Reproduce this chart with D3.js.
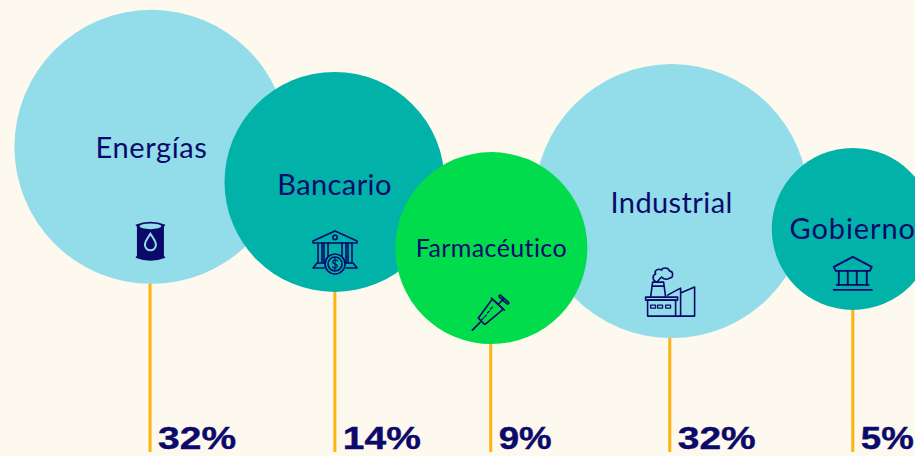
<!DOCTYPE html>
<html>
<head>
<meta charset="utf-8">
<script src="https://d3js.org/d3.v7.min.js"></script>
<style>
  html, body { margin: 0; padding: 0; background: #fef9ef; overflow: hidden; }
  svg { display: block; }
</style>
</head>
<body>
<div id="my_dataviz"></div>
<script>
// data
var sectors = ["Energías", "Bancario", "Farmacéutico", "Industrial", "Gobierno"];
var shares = [32, 14, 9, 32, 5];
var shareLabels = ["32%", "14%", "9%", "32%", "5%"];
// bubble centres and stems, in percent of the plot width / height
var bubbleX = [16.55, 36.56, 53.7, 73.4, 93.2];
var bubbleY = [67.8, 60.1, 45.6, 55.9, 49.8];
var stemX = [16.4, 36.6, 53.63, 73.2, 93.2];
var groups = ["light", "teal", "green", "light", "teal"];
var icons = ["barrel", "bank", "syringe", "factory", "government"];

var width = 915, height = 456;
var navy = "#0b0a6b";

var x = d3.scaleLinear().domain([0, 100]).range([0, width]);
var y = d3.scaleLinear().domain([0, 100]).range([height, 0]);
var r = d3.scaleLinear().domain([5, 9, 14, 32]).range([81, 96, 110, 137]);
var color = d3.scaleOrdinal()
  .domain(["light", "teal", "green"])
  .range(["#92dde9", "#00b2a8", "#00dc4c"]);

var rows = sectors.map(function(s, i) {
  return { sector: s, share: shares[i], label: shareLabels[i], x: bubbleX[i], y: bubbleY[i], stem: stemX[i], group: groups[i], icon: icons[i] };
});

// label baseline below the bubble centre, and tracking to fit the original widths
var labelDy = { "Energías": 11, "Bancario": 13, "Farmacéutico": 9, "Industrial": 12, "Gobierno": 10 };
var labelTrack = { "Energías": 0.6, "Bancario": 0.4, "Farmacéutico": 0.4, "Industrial": 0.4, "Gobierno": 0.9 };

var svg = d3.select("#my_dataviz").append("svg")
  .attr("width", width)
  .attr("height", height);

// stems
var stemBottom = 452;
svg.append("g").selectAll("line")
  .data(rows)
  .join("line")
    .attr("x1", function(d) { return x(d.stem); })
    .attr("x2", function(d) { return x(d.stem); })
    .attr("y1", function(d) { return y(d.y); })
    .attr("y2", stemBottom)
    .attr("stroke", "#ffb311")
    .attr("stroke-width", 3);

// big ones go first, the smaller bubbles sit on top
var bubbles = svg.append("g").selectAll("g")
  .data(rows.slice().sort(function(a, b) { return d3.descending(a.share, b.share); }))
  .join("g")
    .attr("transform", function(d) { return "translate(" + x(d.x) + "," + y(d.y) + ")"; });

bubbles.append("circle")
  .attr("r", function(d) { return r(d.share); })
  .attr("fill", function(d) { return color(d.group); });

bubbles.append("text")
  .attr("text-anchor", "middle")
  .attr("dy", function(d) { return labelDy[d.sector]; })
  .attr("font-family", "Lato")
  .attr("font-size", function(d) { return d.sector == "Farmacéutico" ? 25 : 29; })
  .attr("letter-spacing", function(d) { return labelTrack[d.sector]; })
  .attr("fill", navy)
  .text(function(d) { return d.sector; });

// percent labels, stretched because the original face is an extended one
svg.append("g").selectAll("text")
  .data(rows)
  .join("text")
    .attr("x", function(d) { return x(d.stem) + 8; })
    .attr("y", 449.4)
    .attr("font-family", "Liberation Sans")
    .attr("font-weight", "bold")
    .attr("font-size", 31)
    .attr("textLength", function(d) { return d.label.length == 3 ? 78 : 53; })
    .attr("lengthAdjust", "spacingAndGlyphs")
    .attr("fill", navy)
    .attr("stroke", navy)
    .attr("stroke-width", 0.4)
    .text(function(d) { return d.label; });

// icons, each drawn in its own local coordinates
function outline(g) {
  return g.attr("fill", "none").attr("stroke", navy).attr("stroke-width", 1.6)
    .attr("stroke-linejoin", "round").attr("stroke-linecap", "round");
}

var drawIcon = {
  barrel: function(g) {
    g.attr("transform", "translate(-1,95)");
    g.append("path").attr("fill", navy)
      .attr("d", "M-15,-17 Q0,-23 15,-17 L13.5,-15 L13.5,14 L15,16 Q0,22 -15,16 L-13.5,14 L-13.5,-15 Z");
    g.append("ellipse").attr("cy", -15.5).attr("rx", 11).attr("ry", 2.8).attr("fill", "#92dde9");
    g.append("path").attr("fill", "none").attr("stroke", "#92dde9").attr("stroke-width", 2)
      .attr("d", "M0,-8 C3,-3 5.5,-1 5.5,3 A5.5,5.5 0 0 1 -5.5,3 C-5.5,-1 -3,-3 0,-8 Z");
  },
  bank: function(g) {
    g.attr("transform", "translate(0.5,70)");
    outline(g);
    g.append("path").attr("d", "M-22,-11 L0,-21 L22,-11 L22,-9 L-22,-9 Z");
    g.append("circle").attr("cy", -14.5).attr("r", 2.2);
    [-15, -9, 9, 15].forEach(function(c) {
      g.append("path").attr("d", "M" + (c - 2) + ",-9 V11 M" + (c + 2) + ",-9 V11");
    });
    g.append("path").attr("d", "M-18,11 H18 M-22,16 L-18,11 M22,16 L18,11 M-22,16 H-11 M11,16 H22");
    g.append("circle").attr("cy", 12).attr("r", 10).attr("fill", "#00b2a8");
    g.append("circle").attr("cy", 12).attr("r", 7);
    g.append("path").attr("stroke-width", 1.2).attr("d", "M2.5,9 Q0,7 -2,9 Q-3,11.5 0,12 Q3,13 2,15 Q0,17 -2.5,15 M0,6.5 V17.5");
  },
  syringe: function(g) {
    g.attr("transform", "translate(-1,65)");
    outline(g);
    g.append("path").attr("d", "M-18,17 L-10,9 M-12,5 L-6,11 M-12,5 L2,-14 L13,-4 L-5,11");
    g.append("path").attr("stroke-width", 1.2).attr("d", "M-9,7 L-7,5 M-6,4 L-4,2 M-3,0 L-1,-2 M0,-4 L2,-6");
    g.append("path").attr("d", "M1,-15 L14,-3 M8,-9 L13,-14 M10,-18 L18,-11 Q19,-9 17,-9 L9,-16 Q8,-18 10,-18 Z");
  },
  factory: function(g) {
    g.attr("transform", "translate(0,91)");
    outline(g);
    g.append("path").attr("d", "M-24,8 H4 V24 H-24 Z");
    g.append("path").attr("d", "M-26,5 H6 V8 H-26 Z");
    g.append("path").attr("d", "M-21,5 L-19,-10 H-8 L-6,5 M-19,-6 H-8");
    g.append("path").attr("d", "M-4,3 L9,-4 V24 M9,1 L23,-5 V24 H4");
    g.append("path").attr("stroke-width", 1.2).attr("d", "M-21,13 h5 v3 h-5 Z M-14,13 h5 v3 h-5 Z M-6,13 h5 v3 h-5 Z");
    g.append("path").attr("d", "M-15,-10 C-20,-12 -19,-17 -16,-18 C-18,-22 -13,-24 -10,-22 C-10,-25 -3,-25 -2,-21 C2,-21 2,-14 -2,-14 C-5,-12 -8,-13 -10,-15 C-12,-14 -12,-12 -15,-10 Z");
  },
  government: function(g) {
    g.attr("transform", "translate(0,45)");
    outline(g).attr("stroke-width", 1.9);
    g.append("path").attr("d", "M-19,-7 L0,-17 L19,-7 L17,-3 H-17 Z");
    g.append("path").attr("d", "M-14,-3 V11 M-5,-3 V11 M4,-3 V11 M14,-3 V11");
    g.append("path").attr("d", "M-16,11 H16 M-19,16 H19");
  }
};

bubbles.append("g").each(function(d) {
  drawIcon[d.icon](d3.select(this));
});
</script>
</body>
</html>
